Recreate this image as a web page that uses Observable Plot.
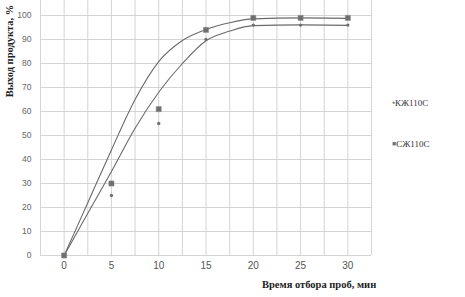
<!DOCTYPE html>
<html>
<head>
<meta charset="utf-8">
<script src="https://cdn.jsdelivr.net/npm/d3@7"></script>
<script src="https://cdn.jsdelivr.net/npm/@observablehq/plot@0.6"></script>
<style>
  body { margin: 0; background: #fff; }
  #wrap { position: relative; width: 465px; height: 297px; overflow: hidden; }
  .ttl { position: absolute; font-family: "Liberation Serif", "DejaVu Serif", serif; font-weight: bold; color: #222; white-space: nowrap; }
  .leg { position: absolute; font-family: "Liberation Serif", serif; font-size: 9px; color: #333; white-space: nowrap; }
</style>
</head>
<body>
<div id="wrap"></div>
<script>
const times = [0, 5, 10, 15, 20, 25, 30];
const kzh = [0, 25, 55, 90, 96, 96, 96];
const szh = [0, 30, 61, 94, 99, 99, 99];
const fitX = [0, 2.5, 5, 7.5, 10, 12.5, 15, 17.5, 20, 25, 30];
const fitKzh = [0, 17.6, 35, 53, 68, 80, 89.5, 93.5, 95.8, 96.1, 95.9];
const fitSzh = [0, 22, 44, 65, 80.8, 89.6, 94.2, 97, 98.6, 99, 98.8];
const xTicks = [0, 5, 10, 15, 20, 25, 30];
const yTicks = [0, 10, 20, 30, 40, 50, 60, 70, 80, 90, 100];
const xGrid = d3.range(-2.5, 32.51, 2.5);
const seriesNames = ["КЖ110С", "СЖ110С"];
const yTitle = "Выход продукта, %";
const xTitle = "Время отбора проб, мин";

const pts = (xs, ys) => xs.map((x, i) => ({x, y: ys[i]}));

const chart = Plot.plot({
  width: 465,
  height: 297,
  marginLeft: 40,
  marginRight: 94,
  marginTop: 0,
  marginBottom: 42,
  style: {fontFamily: "'Liberation Sans', sans-serif", color: "#555", background: "#fff"},
  x: {domain: [-2.5, 32.5], ticks: xTicks, tickSize: 0, tickPadding: 6, label: null, tickFormat: d => d},
  y: {domain: [0, 106.25], ticks: yTicks, tickSize: 0, tickPadding: 9, label: null},
  marks: [
    Plot.ruleY(yTicks, {stroke: "#d4d4d4", strokeWidth: 1}),
    Plot.ruleX(xGrid, {stroke: "#d4d4d4", strokeWidth: 1, y1: 0, y2: 106.25}),
    Plot.axisX({ticks: xTicks, tickSize: 0, tickPadding: 6, fontSize: 10, fill: "#555", label: null}),
    Plot.axisY({ticks: yTicks, tickSize: 0, tickPadding: 9, fontSize: 8.5, fill: "#666", label: null}),
    Plot.line(pts(fitX, fitKzh), {x: "x", y: "y", curve: "monotone-x", stroke: "#6a6a6a", strokeWidth: 1.1}),
    Plot.line(pts(fitX, fitSzh), {x: "x", y: "y", curve: "monotone-x", stroke: "#6a6a6a", strokeWidth: 1.1}),
    Plot.dot(pts(times, szh), {x: "x", y: "y", symbol: "square", r: 2.9, fill: "#6f6f6f", stroke: "#888", strokeWidth: 0.5}),
    Plot.dot(pts(times, kzh), {x: "x", y: "y", symbol: "circle", r: 1.7, fill: "#707070"})
  ]
});

const wrap = document.getElementById("wrap");
wrap.appendChild(chart);

const yt = document.createElement("div");
yt.className = "ttl";
yt.textContent = yTitle;
yt.style.fontSize = "10.5px";
yt.style.left = "9px";
yt.style.top = "51px";
yt.style.transform = "translate(-50%, -50%) rotate(-90deg)";
wrap.appendChild(yt);

const xt = document.createElement("div");
xt.className = "ttl";
xt.textContent = xTitle;
xt.style.fontSize = "10.5px";
xt.style.left = "262px";
xt.style.top = "279px";
wrap.appendChild(xt);

const legTops = [97, 138];
const legSyms = ["●", "■"];
const legSizes = ["5px", "7px"];
seriesNames.forEach((n, i) => {
  const d = document.createElement("div");
  d.className = "leg";
  d.style.left = "392px";
  d.style.top = legTops[i] + "px";
  d.innerHTML = `<span style="color:#777;font-size:${legSizes[i]};vertical-align:middle">${legSyms[i]}</span><span style="vertical-align:middle">${n}</span>`;
  wrap.appendChild(d);
});
</script>
</body>
</html>
